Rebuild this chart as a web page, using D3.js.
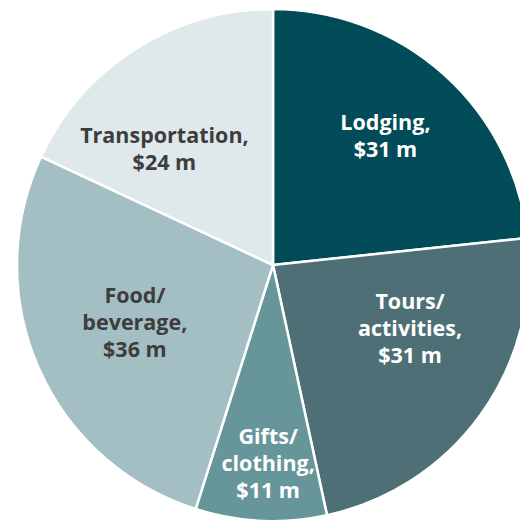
<!DOCTYPE html>
<html><head><meta charset="utf-8">
<script src="https://cdn.jsdelivr.net/npm/d3@7"></script>
<style>html,body{margin:0;padding:0;background:#fff;overflow:hidden}</style>
</head><body>
<svg id="chart" width="520" height="521"></svg>
<script>
const categories = ["Lodging", "Tours/ activities", "Gifts/ clothing", "Food/ beverage", "Transportation"];
const labelLines = [["Lodging,", "$31 m"], ["Tours/", "activities,", "$31 m"], ["Gifts/", "clothing,", "$11 m"], ["Food/", "beverage,", "$36 m"], ["Transportation,", "$24 m"]];
const values = [31, 31, 11, 36, 24];
const colors = ["#014c58", "#4e6f75", "#66969a", "#a4bfc3", "#dfe8ea"];
const textColors = ["#ffffff", "#ffffff", "#ffffff", "#3d3d3d", "#3d3d3d"];
// label placement: [angle offset in degrees from slice middle, radius fraction]
const labelLayout = [[-1, 0.67], [-11, 0.59], [-1.3, 0.775], [1, 0.585], [-10.7, 0.62]];

const cx = 273, cy = 265, R = 256;
const svg = d3.select("#chart");
const g = svg.append("g").attr("transform", `translate(${cx},${cy})`);
const pie = d3.pie().sort(null).value(d => d);
const arcs = pie(values);
const arc = d3.arc().innerRadius(0).outerRadius(R);
g.selectAll("path").data(arcs).join("path")
  .attr("d", arc)
  .attr("fill", (d, i) => colors[i])
  .attr("stroke", "#fff").attr("stroke-width", 2.5).attr("stroke-linejoin", "round");

const fs = 21.5, lh = 27;
arcs.forEach((d, i) => {
  const mid = (d.startAngle + d.endAngle) / 2 + labelLayout[i][0] * Math.PI / 180;
  const r = labelLayout[i][1] * R;
  const x = Math.sin(mid) * r, y = -Math.cos(mid) * r;
  const lines = labelLines[i];
  const t = g.append("text")
    .attr("text-anchor", "middle")
    .attr("font-family", "'Open Sans', 'Noto Sans', sans-serif")
    .attr("font-weight", 700)
    .attr("font-size", fs)
    .attr("fill", textColors[i]);
  lines.forEach((ln, k) => {
    t.append("tspan").attr("x", x)
      .attr("y", y + (k - (lines.length - 1) / 2) * lh)
      .attr("dy", "0.35em")
      .text(ln);
  });
});
</script>
</body></html>
